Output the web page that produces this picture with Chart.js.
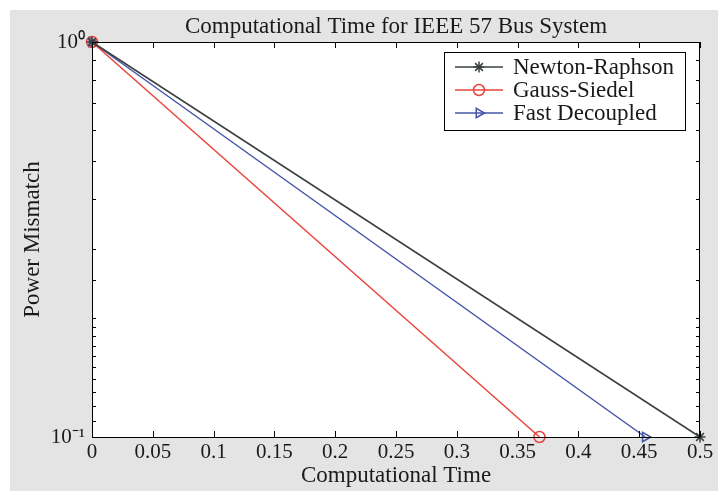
<!DOCTYPE html>
<html>
<head>
<meta charset="utf-8">
<script src="https://cdn.jsdelivr.net/npm/chart.js@4"></script>
<style>
  html, body { margin: 0; padding: 0; background: #fff; }
  #wrap { width: 718px; height: 491px; }
</style>
</head>
<body>
<div id="wrap"><canvas id="chart" width="718" height="491"></canvas></div>
<script>
// --- data ---
const methodNames = ['Newton-Raphson', 'Gauss-Siedel', 'Fast Decoupled'];
const nrTime = [0, 0.5];
const nrMismatch = [1, 0.1];
const gsTime = [0, 0.368];
const gsMismatch = [1, 0.1];
const fdTime = [0, 0.455];
const fdMismatch = [1, 0.1];
const xTicks = [0, 0.05, 0.1, 0.15, 0.2, 0.25, 0.3, 0.35, 0.4, 0.45, 0.5];

const FONT = "'Liberation Serif', 'Times New Roman', serif";
const TEXT = '#1a1a1a';
const colors = ['#3b4040', '#e8453c', '#4654a8'];

const toPoints = (xs, ys) => xs.map((x, i) => ({ x: x, y: ys[i] }));

// figure background, inward ticks on all four sides, title and legend
const matlabFrame = {
    id: 'matlabFrame',
    beforeDraw(chart) {
        const c = chart.ctx;
        const a = chart.chartArea;
        c.save();
        c.fillStyle = '#e4e4e4';
        c.fillRect(10, 10, 708, 481);
        c.fillStyle = '#ffffff';
        c.fillRect(a.left, a.top, a.right - a.left, a.bottom - a.top);
        c.restore();
    },
    afterDraw(chart) {
        const c = chart.ctx;
        const a = chart.chartArea;
        const xs = chart.scales.x;
        const ys = chart.scales.y;
        c.save();
        c.strokeStyle = '#000';
        c.lineWidth = 1;
        // ticks
        c.beginPath();
        xTicks.forEach(v => {
            const px = Math.round(xs.getPixelForValue(v)) + 0.5;
            c.moveTo(px, a.bottom); c.lineTo(px, a.bottom - 6);
            c.moveTo(px, a.top); c.lineTo(px, a.top + 6);
        });
        ys.ticks.forEach(t => {
            const py = Math.round(ys.getPixelForValue(t.value)) + 0.5;
            const len = (t.value === 1 || Math.abs(t.value - 0.1) < 1e-9) ? 6 : 4;
            c.moveTo(a.left, py); c.lineTo(a.left + len, py);
            c.moveTo(a.right, py); c.lineTo(a.right - len, py);
        });
        c.stroke();
        // box
        c.strokeRect(a.left + 0.5, a.top + 0.5, a.right - a.left - 1, a.bottom - a.top);

        // title
        c.fillStyle = TEXT;
        c.font = '23px ' + FONT;
        c.textAlign = 'center';
        c.textBaseline = 'middle';
        c.fillText('Computational Time for IEEE 57 Bus System', (a.left + a.right) / 2, 27);

        // legend
        const lx = 444, ly = 52, lw = 241, lh = 78;
        c.fillStyle = '#fff';
        c.fillRect(lx, ly, lw, lh);
        c.strokeStyle = '#000';
        c.lineWidth = 1;
        c.strokeRect(lx + 0.5, ly + 0.5, lw, lh);
        chart.data.datasets.forEach((ds, i) => {
            const rowY = 67 + i * 23;
            c.strokeStyle = ds.borderColor;
            c.lineWidth = 1.5;
            c.beginPath();
            c.moveTo(455, rowY); c.lineTo(503, rowY);
            c.stroke();
            c.fillStyle = 'rgba(0,0,0,0)';
            Chart.helpers.drawPoint(c, {
                pointStyle: ds.pointStyle,
                rotation: ds.pointRotation || 0,
                radius: ds.pointRadius,
                borderWidth: ds.pointBorderWidth
            }, 479, rowY);
            c.fillStyle = TEXT;
            c.font = '23px ' + FONT;
            c.textAlign = 'left';
            c.textBaseline = 'middle';
            c.fillText(ds.label, 513, rowY + 1);
        });
        c.restore();
    }
};

function makeSet(i, xs, ys, style, rot) {
    return {
        label: methodNames[i],
        data: toPoints(xs, ys),
        borderColor: colors[i],
        backgroundColor: 'rgba(0,0,0,0)',
        pointBorderColor: colors[i],
        pointBackgroundColor: 'rgba(0,0,0,0)',
        borderWidth: 1.5,
        pointStyle: style,
        pointRotation: rot || 0,
        pointRadius: 5.5,
        pointBorderWidth: 1.5,
        tension: 0
    };
}

new Chart(document.getElementById('chart'), {
    type: 'line',
    data: {
        datasets: [
            makeSet(0, nrTime, nrMismatch, 'star'),
            makeSet(1, gsTime, gsMismatch, 'circle'),
            makeSet(2, fdTime, fdMismatch, 'triangle', 90)
        ]
    },
    options: {
        responsive: false,
        animation: false,
        clip: false,
        layout: { padding: { left: 0, top: 42, right: 18, bottom: 0 } },
        plugins: {
            legend: { display: false },
            title: { display: false },
            tooltip: { enabled: false }
        },
        scales: {
            x: {
                type: 'linear',
                min: 0,
                max: 0.5,
                afterBuildTicks: (s) => { s.ticks = xTicks.map(v => ({ value: v })); },
                afterFit: (s) => { s.height = 54; },
                grid: { display: false, drawTicks: false },
                border: { display: false },
                ticks: {
                    color: TEXT,
                    padding: 3,
                    maxRotation: 0,
                    autoSkip: false,
                    font: { family: FONT, size: 21 },
                    callback: (v) => String(+v.toFixed(2))
                },
                title: {
                    display: true,
                    text: 'Computational Time',
                    color: TEXT,
                    font: { family: FONT, size: 23 },
                    padding: { top: 0, bottom: 1 }
                }
            },
            y: {
                type: 'logarithmic',
                min: 0.1,
                max: 1,
                afterFit: (s) => { s.width = 92; },
                grid: { display: false, drawTicks: false },
                border: { display: false },
                ticks: {
                    color: TEXT,
                    padding: 7,
                    autoSkip: false,
                    font: { family: FONT, size: 21 },
                    callback: (v) => v === 1 ? '10\u2070' : (Math.abs(v - 0.1) < 1e-9 ? '10\u207B\u00B9' : '')
                },
                title: {
                    display: true,
                    text: 'Power Mismatch',
                    color: TEXT,
                    font: { family: FONT, size: 23 },
                    padding: { top: 19, bottom: 0 }
                }
            }
        }
    },
    plugins: [matlabFrame]
});
</script>
</body>
</html>
